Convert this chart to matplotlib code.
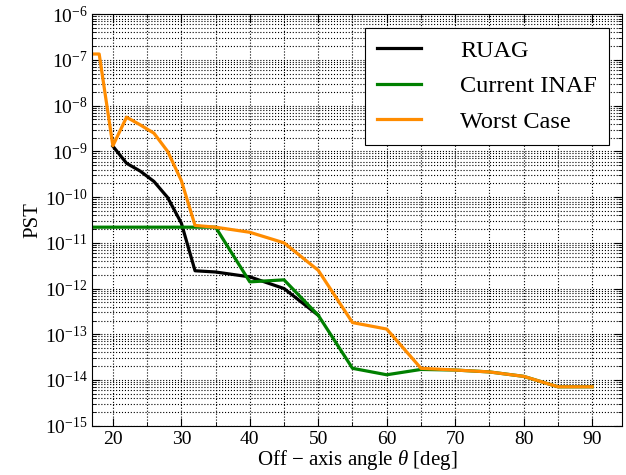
import matplotlib
matplotlib.use("Agg")
from matplotlib import pyplot as plt
from matplotlib.ticker import LogLocator, MultipleLocator, NullFormatter

plt.rcParams['font.family'] = ['Liberation Serif', 'DejaVu Serif']
plt.rcParams['mathtext.fontset'] = 'custom'
plt.rcParams['mathtext.rm'] = 'Liberation Serif'
plt.rcParams['mathtext.it'] = 'Liberation Serif:italic'

# angoli (deg) e PST
ang_ruag = [20, 22, 24, 26, 28, 30, 32, 35, 40, 45, 50]
pst_ruag = [1.3e-9, 5.5e-10, 3.7e-10, 2.2e-10, 9.8e-11, 2.7e-11, 2.45e-12, 2.3e-12, 1.8e-12, 1.0e-12, 2.6e-13]

ang_inaf = [17, 20, 25, 30, 35, 40, 45, 50, 55, 60, 65, 70, 75, 80, 85, 90]
pst_inaf = [2.2e-11, 2.2e-11, 2.2e-11, 2.2e-11, 2.2e-11, 1.4e-12, 1.55e-12, 2.6e-13, 1.8e-14, 1.3e-14, 1.7e-14, 1.65e-14, 1.5e-14, 1.2e-14, 7.1e-15, 7.1e-15]

ang_worst = [17, 18, 20, 22, 24, 26, 28, 30, 32, 35, 40, 45, 50, 55, 60, 65, 70, 75, 80, 85, 90]
pst_worst = [1.35e-7, 1.35e-7, 1.33e-9, 5.6e-9, 3.8e-9, 2.5e-9, 1.0e-9, 2.3e-10, 2.4e-11, 2.2e-11, 1.7e-11, 1.0e-11, 2.5e-12, 1.8e-13, 1.3e-13, 1.8e-14, 1.65e-14, 1.5e-14, 1.2e-14, 7.1e-15, 7.1e-15]

fig = plt.figure(figsize=(6.26, 4.75), dpi=100)
ax = fig.add_axes([0.1475, 0.1038, 0.8465, 0.8662])

ax.semilogy(ang_ruag, pst_ruag, color='black', lw=2.3, label='RUAG')
ax.semilogy(ang_inaf, pst_inaf, color='green', lw=2.3, label='Current INAF')
ax.semilogy(ang_worst, pst_worst, color='darkorange', lw=2.3, label='Worst Case')

ax.set_xlim(17, 94.4)
ax.set_ylim(1e-15, 1e-6)
ax.xaxis.set_major_locator(MultipleLocator(10))
ax.xaxis.set_minor_locator(MultipleLocator(5))
ax.yaxis.set_major_locator(LogLocator(base=10, numticks=20))
ax.yaxis.set_minor_locator(LogLocator(base=10, subs=range(2, 10), numticks=20))
ax.yaxis.set_minor_formatter(NullFormatter())

ax.grid(True, which='both', linestyle=':', color='black', lw=0.8)
ax.tick_params(which='both', direction='in', top=True, right=True, labelsize=14)
ax.tick_params(which='major', length=6)
ax.tick_params(which='minor', length=3)

ax.set_xlabel(r'Off $-$ axis angle $\theta$ [deg]', fontsize=15, labelpad=0)
ax.set_ylabel('PST', fontsize=15, labelpad=2)

leg = ax.legend(loc='upper right', fontsize=17.5, fancybox=False, framealpha=1,
                edgecolor='black', handlelength=1.8, handletextpad=1.6,
                labelspacing=0.55, borderpad=0.5, borderaxespad=0.55)
leg.get_frame().set_linewidth(0.8)

fig.savefig('out.png', dpi=100)
